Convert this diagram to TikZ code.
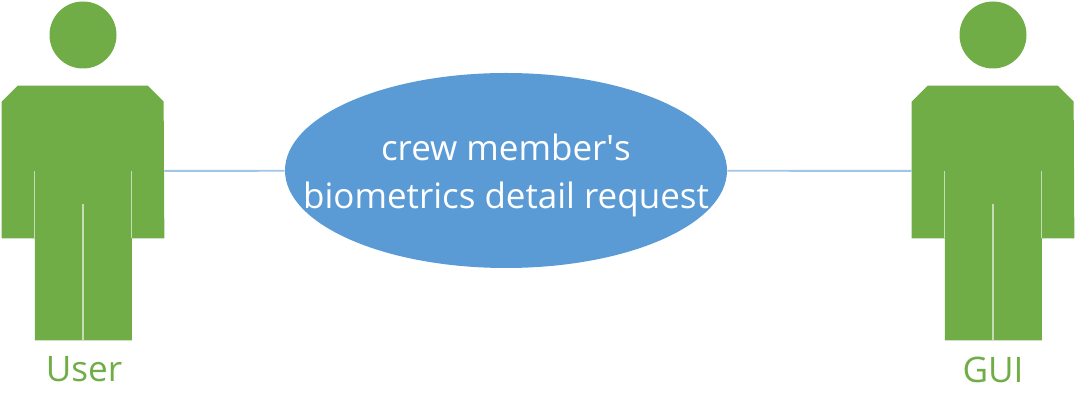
\documentclass[tikz,border=0pt]{standalone}
\usepackage{fontspec}
\setmainfont{Open Sans}
\usetikzlibrary{positioning, shapes}
\definecolor{actorgreen}{HTML}{70AD47}
\definecolor{slitgreen}{HTML}{C5DDB4}
\definecolor{casefill}{HTML}{5B9BD5}
\definecolor{caseline}{HTML}{A2C4E5}
\tikzset{
  head node/.style={circle,fill=actorgreen,minimum size=1.34cm,inner sep=0pt},
  body node/.style={minimum width=3.24cm,minimum height=2.68cm,inner sep=0pt},
  case node/.style={ellipse,fill=casefill,text=white,minimum width=8.84cm,minimum height=3.9cm,inner xsep=-1cm,inner ysep=0pt,align=center,font=\fontsize{19.9}{27.2}\selectfont},
  actor label/.style={text=actorgreen,font=\fontsize{20}{24}\selectfont},
  slit/.style={draw=slitgreen,line width=0.7pt},
}
% one figure: body and legs, drawn round the named body node
\newcommand{\actorshape}[1]{
  \fill[actorgreen] (#1.north west) ++(0,0.04) -- ++(0.32,0.32) -- ++(2.6,0) -- ++(0.32,-0.32)
    -- (#1.south east) -- ++(-0.65,0) -- ++(0,-2.04) -- ++(-1.94,0) -- ++(0,2.04) -- (#1.south west) -- cycle;
  \draw[slit] (#1.center) ++(-0.97,0) -- ++(0,-1.34);
  \draw[slit] (#1.center) ++(0.97,0) -- ++(0,-1.34);
  \draw[slit] (#1.center) ++(0,-0.66) -- ++(0,-2.72);
}
\begin{document}
\begin{tikzpicture}
       \useasboundingbox (0,0) rectangle (21.52,8.26);
       \node[case node] (case) at (10.12,4.85) {\rule{0pt}{0.74cm}crew member\textquotesingle s\\biometrics detail request};

       \node[body node] (user) at (1.66,4.84) {};
       \node[body node] (gui) at (19.86,4.84) {};
       \actorshape{user}
       \actorshape{gui}

       \node[head node] (userhead) at (1.66,7.56) {};
       \node[head node] (guihead) at (19.86,7.56) {};
       \node[actor label] (userlabel) at (1.68,0.87) {User};
       \node[actor label] (guilabel) at (19.86,0.87) {GUI};

       \path[draw,caseline,line width=1.1pt]
       (user) edge (case)
       (case) edge (gui);
\end{tikzpicture}
\end{document}
